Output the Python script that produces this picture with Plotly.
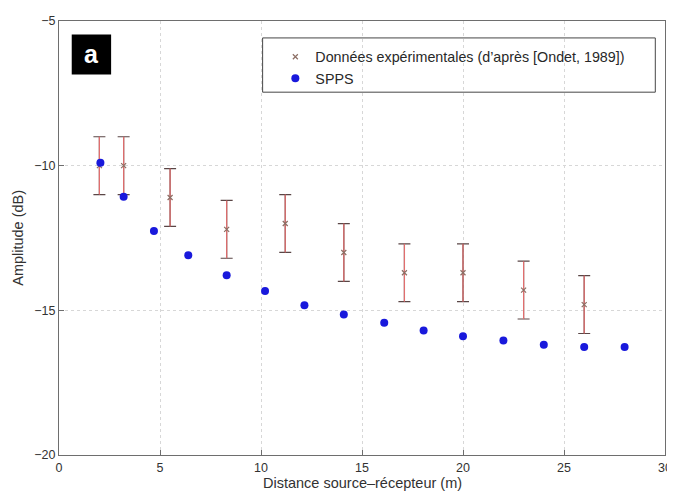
import plotly.graph_objects as go

# experimental data (Ondet, 1989), +/- 1 dB
exp_x = [2.0, 3.2, 5.5, 8.3, 11.2, 14.1, 17.1, 20.0, 23.0, 26.0]
exp_y = [-10.0, -10.0, -11.1, -12.2, -12.0, -13.0, -13.7, -13.7, -14.3, -14.8]
exp_err = [1, 1, 1, 1, 1, 1, 1, 1, 1, 1]

# SPPS simulation
spps_x = [2.05, 3.2, 4.7, 6.4, 8.3, 10.2, 12.15, 14.1, 16.1, 18.05, 20.0, 22.0, 24.0, 26.0, 28.0]
spps_y = [-9.9, -11.07, -12.26, -13.1, -13.79, -14.33, -14.82, -15.14, -15.43,
          -15.7, -15.9, -16.04, -16.19, -16.27, -16.27]

x_ticks = [0, 5, 10, 15, 20, 25, 30]
y_ticks = [-20, -15, -10, -5]

font = "Liberation Sans, Arial, sans-serif"
txt = "rgb(50,50,50)"

fig = go.Figure()

# dark caps underneath
fig.add_trace(go.Scatter(
    x=exp_x, y=exp_y, mode="markers", showlegend=False, hoverinfo="skip",
    marker=dict(size=1, color="rgba(0,0,0,0)"),
    error_y=dict(type="data", array=exp_err, color="rgb(90,70,70)", thickness=1.2, width=6),
))
# red bars on top, no caps
fig.add_trace(go.Scatter(
    x=exp_x, y=exp_y, mode="markers",
    name="Données expérimentales (d’après [Ondet, 1989])",
    marker=dict(symbol="x-thin", size=5, color="rgb(140,110,100)",
                line=dict(width=1.2, color="rgb(140,110,100)")),
    error_y=dict(type="data", array=exp_err, color="rgb(225,110,110)", thickness=1.2, width=0),
))
fig.add_trace(go.Scatter(
    x=spps_x, y=spps_y, mode="markers", name="SPPS",
    marker=dict(symbol="circle", size=8, color="rgb(25,25,220)"),
))

# panel label
fig.add_shape(type="rect", xref="paper", yref="paper",
              x0=0.021, x1=0.086, y0=0.877, y1=0.969,
              fillcolor="black", line=dict(width=0))
fig.add_annotation(xref="paper", yref="paper", x=0.0535, y=0.923,
                   xanchor="center", yanchor="middle",
                   text="<b>a</b>", showarrow=False,
                   font=dict(family=font, size=25, color="white"))

# legend frame
fig.add_shape(type="rect", xref="paper", yref="paper",
              x0=0.336, x1=0.984, y0=0.836, y1=0.961,
              fillcolor="white", line=dict(width=1, color="rgb(70,70,70)"), layer="below")

# axis titles
fig.add_annotation(xref="paper", yref="paper", x=0.5, y=-0.064, yanchor="middle",
                   text="Distance source–récepteur (m)", showarrow=False, borderpad=0,
                   font=dict(family=font, size=14.5, color=txt))
fig.add_annotation(xref="paper", yref="paper", x=-0.068, y=0.5, xanchor="center",
                   text="Amplitude (dB)", showarrow=False, textangle=-90,
                   font=dict(family=font, size=14.5, color=txt))

axis_common = dict(
    showline=True, linecolor="rgb(110,110,110)", linewidth=1, mirror=True,
    ticks="inside", ticklen=5, tickcolor="rgb(110,110,110)",
    showgrid=True, gridcolor="rgb(215,215,215)", griddash="dot", gridwidth=1,
    zeroline=False, automargin=False, ticklabeloverflow="allow",
    tickfont=dict(family=font, size=12.5, color=txt),
)

fig.update_xaxes(range=[0, 30], tickvals=x_ticks, ticklabelstandoff=1, **axis_common)
fig.update_yaxes(range=[-20, -5], tickvals=y_ticks, **axis_common)

# page body has an 8px margin, so the figure is 8px smaller
fig.update_layout(
    width=667, height=483,
    margin=dict(l=51, r=10, t=13, b=36),
    paper_bgcolor="white", plot_bgcolor="white",
    font=dict(family=font, size=14, color="rgb(40,40,40)"),
    legend=dict(x=0.357, y=0.954, xanchor="left", yanchor="top",
                bgcolor="rgba(0,0,0,0)", borderwidth=0,
                font=dict(family=font, size=14.3, color="rgb(40,40,40)"),
                itemwidth=30, tracegroupgap=0),
)

fig.write_html("out.html")
